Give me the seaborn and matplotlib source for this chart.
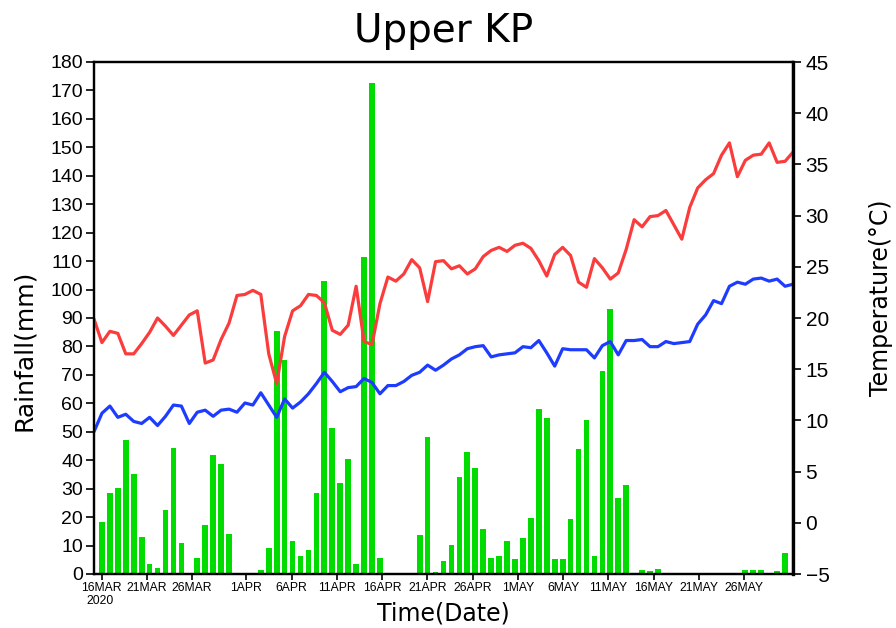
import numpy as np
import pandas as pd
import matplotlib
matplotlib.use("Agg")
import matplotlib.pyplot as plt
import seaborn as sns

# Daily series, 89 samples spread over the 16 Mar - 31 May 2020 window
rain = [0, 18.2, 28.4, 30.4, 47.0, 35.0, 12.9, 3.5, 2.2, 22.5,
        44.3, 10.8, 0, 5.5, 17.1, 42.0, 38.7, 14.2, 0, 0,
        0, 1.3, 9.0, 85.5, 75.1, 11.7, 6.5, 8.6, 28.4, 103.0,
        51.3, 32.0, 40.3, 3.4, 111.4, 172.6, 5.5, 0, 0, 0,
        0, 13.8, 48.3, 0.6, 4.6, 10.2, 34.1, 43.0, 37.4, 15.8,
        5.6, 6.3, 11.5, 5.3, 12.7, 19.6, 57.9, 54.9, 5.2, 5.2,
        19.2, 44.0, 54.1, 6.2, 71.5, 93.2, 26.7, 31.3, 0, 1.3,
        0.9, 1.6, 0, 0.5, 0, 0, 0, 0, 0, 0,
        0, 0, 1.3, 1.3, 1.3, 0, 0.9, 7.3, 0]

tmax = [19.9, 17.6, 18.7, 18.5, 16.5, 16.5, 17.5, 18.6, 20.0, 19.2,
        18.3, 19.3, 20.3, 20.7, 15.6, 15.9, 17.9, 19.5, 22.2, 22.3,
        22.7, 22.3, 16.5, 13.6, 18.2, 20.7, 21.2, 22.3, 22.2, 21.5,
        18.8, 18.4, 19.3, 23.1, 17.7, 17.4, 21.4, 24.0, 23.6, 24.3,
        25.7, 24.9, 21.6, 25.5, 25.6, 24.8, 25.1, 24.3, 24.8, 26.0,
        26.6, 26.9, 26.5, 27.1, 27.3, 26.8, 25.6, 24.1, 26.2, 26.9,
        26.1, 23.5, 23.0, 25.8, 24.9, 23.8, 24.4, 26.7, 29.6, 28.9,
        29.9, 30.0, 30.5, 29.1, 27.7, 30.8, 32.7, 33.5, 34.1, 35.9,
        37.1, 33.8, 35.4, 35.9, 36.0, 37.1, 35.2, 35.3, 36.2]

tmin = [8.9, 10.7, 11.4, 10.3, 10.6, 9.9, 9.7, 10.3, 9.5, 10.4,
        11.5, 11.4, 9.7, 10.8, 11.0, 10.4, 11.0, 11.1, 10.8, 11.7,
        11.5, 12.7, 11.5, 10.3, 12.1, 11.2, 11.8, 12.6, 13.6, 14.7,
        13.8, 12.8, 13.2, 13.3, 14.1, 13.7, 12.6, 13.4, 13.4, 13.8,
        14.4, 14.7, 15.4, 14.9, 15.4, 16.0, 16.4, 17.0, 17.2, 17.3,
        16.2, 16.4, 16.5, 16.6, 17.2, 17.1, 17.8, 16.6, 15.3, 17.0,
        16.9, 16.9, 16.9, 16.1, 17.3, 17.7, 16.4, 17.8, 17.8, 17.9,
        17.2, 17.2, 17.7, 17.5, 17.6, 17.7, 19.4, 20.3, 21.7, 21.4,
        23.1, 23.5, 23.3, 23.8, 23.9, 23.6, 23.8, 23.1, 23.3]

tick_dates = ["2020-03-16", "2020-03-21", "2020-03-26", "2020-04-01",
              "2020-04-06", "2020-04-11", "2020-04-16", "2020-04-21",
              "2020-04-26", "2020-05-01", "2020-05-06", "2020-05-11",
              "2020-05-16", "2020-05-21", "2020-05-26"]

sns.set_theme(style="white")
plt.rcParams["font.family"] = ["DejaVu Sans"]
small = "Liberation Sans"

fig = plt.figure(figsize=(8.96, 6.28), dpi=100)
ax = fig.add_axes([94 / 896, 54 / 628, 699 / 896, 512 / 628])

# time axis in days since the first date
start = pd.Timestamp(tick_dates[0])
x_lo, x_hi = -0.85, 76.4
pos = np.round(np.linspace(x_lo, x_hi, len(rain)), 6)

sns.barplot(x=pos, y=rain, native_scale=True, width=0.72, color="#00dc00",
            saturation=1, errorbar=None, linewidth=0, ax=ax)

ax.set_xlim(x_lo, x_hi)
ax.set_ylim(0, 180)
ax.set_yticks(range(0, 181, 10))
ax.set_yticklabels([str(v) for v in range(0, 181, 10)],
                   family="Liberation Sans", fontsize=14)
ticks = pd.to_datetime(tick_dates)
tick_days = [(d - start).days for d in ticks]
ax.set_xticks(tick_days)
ax.set_xticklabels([f"{d.day}{d.strftime('%b').upper()}" for d in ticks],
                   family=small, fontsize=8.7)
ax.set_xlabel("")
ax.set_ylabel("")
ax.tick_params(axis="y", left=True, direction="out", length=6, width=1.2,
               color="black", pad=2, labelcolor="black")
ax.tick_params(axis="x", bottom=True, direction="out", length=4, width=1.2,
               color="black", pad=2, labelcolor="black")

ax2 = ax.twinx()
sns.lineplot(x=pos, y=tmax, color="#fa3c3c", linewidth=2.3, ax=ax2)
sns.lineplot(x=pos, y=tmin, color="#1e3cff", linewidth=2.3, ax=ax2)
ax2.set_xlim(x_lo, x_hi)
ax2.set_ylim(-5, 45)
ax2.set_yticks(range(-5, 46, 5))
ax2.set_yticklabels([str(v).replace("-", "\u2212") for v in range(-5, 46, 5)],
                    family="Liberation Sans", fontsize=15)
ax2.set_ylabel("")
ax2.tick_params(axis="y", right=True, direction="out", length=6, width=1.2,
                color="black", pad=3, labelcolor="black")

for a in (ax, ax2):
    for s in a.spines.values():
        s.set_visible(True)
        s.set_color("black")
        s.set_linewidth(1.6)
ax2.spines["right"].set_linewidth(2.4)

fig.text(443.5 / 896, 1 - 31 / 628, "Upper KP", ha="center", va="center",
         fontsize=28, color="black")
fig.text(24 / 896, 1 - 350 / 628, "Rainfall(mm)", rotation=90,
         ha="center", va="center", fontsize=18, color="black")
fig.text(881 / 896, 1 - 298 / 628, "Temperature(\u00b0C)", rotation=90,
         ha="center", va="center", fontsize=17, color="black")
fig.text(443.5 / 896, 1 - 614 / 628, "Time(Date)", ha="center", va="center",
         fontsize=17, color="black")
fig.text(86 / 896, 1 - 601 / 628, "2020", ha="left", va="center",
         family=small, fontsize=8.7, color="black")

fig.savefig("out.png", dpi=100, facecolor="white")
